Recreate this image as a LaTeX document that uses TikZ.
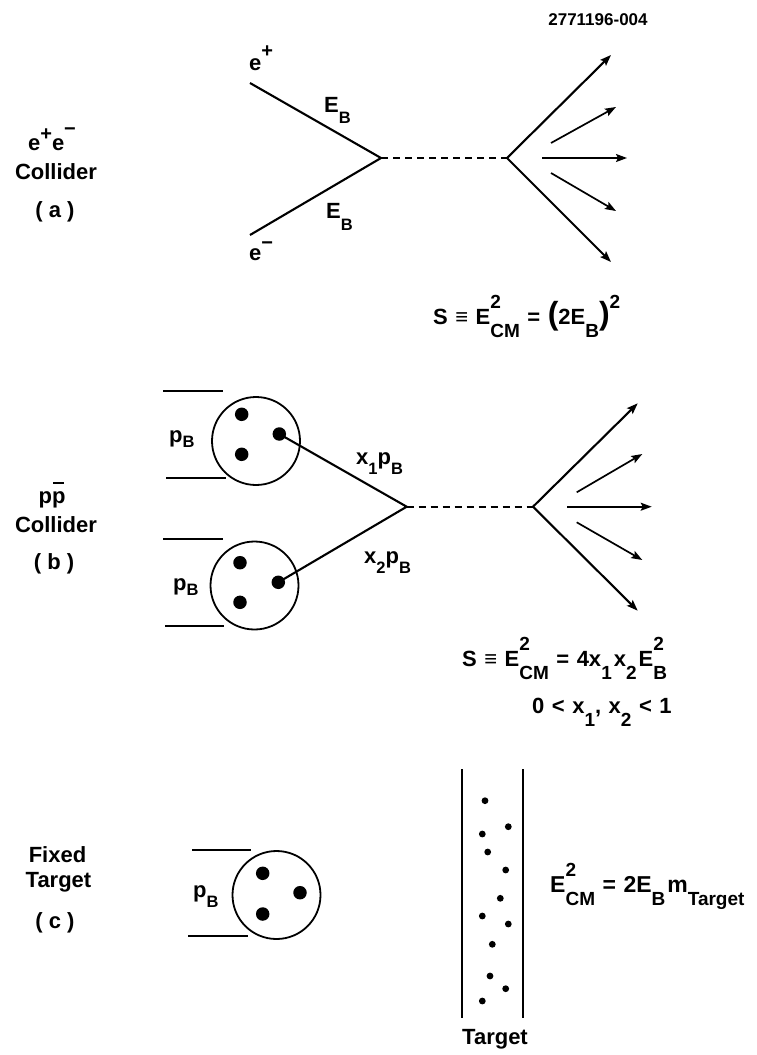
\documentclass[tikz,border=0pt]{standalone}
\usepackage{fontspec}
\setmainfont{Liberation Sans}
\usetikzlibrary{arrows.meta}
\newcommand\fL{\fontsize{22}{26}\selectfont}
\newcommand\fF{\fontsize{22}{26}\selectfont\spaceskip=7.5pt\relax}
\newcommand\fFb{\fontsize{22}{26}\selectfont\spaceskip=7.5pt\relax}
\newcommand\fFc{\fontsize{23}{27}\selectfont\spaceskip=7.5pt\relax}
\newcommand\fS{\fontsize{16.5}{18}\selectfont}
\newcommand\fPM{\fontsize{20}{22}\selectfont}
\newcommand\fsc{\fontsize{19}{21}\selectfont}
\newcommand\supsub[2]{\rlap{\raisebox{16pt}{\fsc #1}}\raisebox{-13pt}{\fsc #2}}
\newcommand\subf[1]{\raisebox{-13pt}{\fsc #1}}
\newcommand\supf[1]{\raisebox{16pt}{\fsc #1}}
\newcommand\sbx[2][10pt]{\raisebox{-#1}{\fS #2}}
\newcommand\pmx[2][12pt]{\raisebox{#1}{\fPM #2}}
\newcommand\pbar{\setbox0=\hbox{p}\rlap{\kern1pt\raisebox{19pt}{\rule{\dimexpr\wd0-2pt\relax}{1.6pt}}}\box0}
\newcommand\bigpar[1]{{\fontsize{32}{32}\selectfont #1}}
\begin{document}
\begin{tikzpicture}[x=1pt,y=-1pt,
  txt/.style={inner sep=0pt, font=\bfseries\fL},
  lbl/.style={txt, anchor=base},
  lw/.style={txt, anchor=base west},
  frm/.style={inner sep=0pt, anchor=base west, font=\bfseries\fF},
  ln/.style={line width=2.1pt},
  thinln/.style={line width=1.2pt},
  arr/.style={line width=1.7pt, -{Stealth[length=11pt,width=8pt,inset=2pt]}},
  arrm/.style={line width=2.1pt, -{Stealth[length=11pt,width=8pt,inset=2pt]}},
  dsh/.style={line width=2.1pt, dash pattern=on 7pt off 5pt},
  proton/.style={circle, draw, line width=1.8pt, minimum size=88pt, inner sep=0pt},
  quark/.style={circle, fill, minimum size=13.5pt, inner sep=0pt},
  atom/.style={circle, fill, minimum size=6.8pt, inner sep=0pt}]
\useasboundingbox (0,0) rectangle (757,1055);

% ---------- label number
\node[lbl, font=\bfseries\fontsize{17}{20}\selectfont] (num) at (598,25) {2771196-004};

% ---------- (a) e+e- collider
\node[lbl] (a1) at (52,150) {e\pmx[10pt]{+}e\pmx[15pt]{\char"2212}};
\node[lbl] (a2) at (56,179) {Collider};
\node[lbl] (a3) at (55,217) {( a )};

\node[lw] (ep) at (249,70) {e\pmx[12.5pt]{+}};
\node[lw] (em) at (249,260) {e\pmx[11pt]{\char"2212}};
\node[lw] (eb1) at (324,112) {E\sbx[11pt]{B}};
\node[lw] (eb2) at (326,218) {E\sbx[12pt]{B}};

\coordinate (a_in1) at (250,83);
\coordinate (a_in2) at (250,235);
\coordinate (a_v1) at (381,158);
\coordinate (a_v2) at (507,158);
\coordinate (a_t1) at (611,55);
\coordinate (a_t5) at (611,262);
\coordinate (a_s2) at (551,143);
\coordinate (a_t2) at (616,107);
\coordinate (a_s3) at (542,158);
\coordinate (a_t3) at (627,158);
\coordinate (a_s4) at (551,173);
\coordinate (a_t4) at (616,211);

\draw[ln] (a_in1) -- (a_v1) -- (a_in2);
\draw[dsh] (a_v1) -- (a_v2);
\draw[arrm] (a_v2) -- (a_t1);
\draw[arrm] (a_v2) -- (a_t5);
\draw[arr] (a_s2) -- (a_t2);
\draw[arr] (a_s3) -- (a_t3);
\draw[arr] (a_s4) -- (a_t4);

\node[frm] (fa) at (433,324) {S \char"2261{} E\supsub{2}{CM} = \bigpar{(}2E\subf{B}\bigpar{)}\supf{2}};

% ---------- (b) p pbar collider
\node[lbl] (b1) at (52,503) {p\pbar};
\node[lbl] (b2) at (56,532) {Collider};
\node[lbl] (b3) at (54,569) {( b )};

\coordinate (b_l1a) at (163,391); \coordinate (b_l1b) at (223,391);
\coordinate (b_l2a) at (166,478); \coordinate (b_l2b) at (226,478);
\coordinate (b_l3a) at (163,539); \coordinate (b_l3b) at (223,539);
\coordinate (b_l4a) at (165,626); \coordinate (b_l4b) at (224,626);
\draw[thinln] (b_l1a) -- (b_l1b);
\draw[thinln] (b_l2a) -- (b_l2b);
\draw[thinln] (b_l3a) -- (b_l3b);
\draw[thinln] (b_l4a) -- (b_l4b);

\node[proton] (bp1) at (256,441) {};
\node[quark] (bq1a) at (241.7,414.3) {};
\node[quark] (bq1b) at (241.7,454.3) {};
\node[quark] (bq1c) at (279.3,434) {};
\node[proton] (bp2) at (254.5,585.5) {};
\node[quark] (bq2a) at (240,562.7) {};
\node[quark] (bq2b) at (240,602.3) {};
\node[quark] (bq2c) at (278.3,582.3) {};

\node[lw] (bpb1) at (169,442) {p\sbx[5pt]{B}};
\node[lw] (bpb2) at (173,590) {p\sbx[5pt]{B}};
\node[lw] (bx1) at (356,464.5) {x\sbx[10pt]{1}p\sbx[10pt]{B}};
\node[lw] (bx2) at (364,563.5) {x\sbx[10pt]{2}p\sbx[10pt]{B}};

\coordinate (b_v1) at (406.7,506.7);
\coordinate (b_v2) at (533,506.7);
\coordinate (b_t1) at (637.7,403.3);
\coordinate (b_t5) at (637.7,610.7);
\coordinate (b_s2) at (576.7,492.3);
\coordinate (b_t2) at (642.3,454);
\coordinate (b_s3) at (567.3,506.7);
\coordinate (b_t3) at (651.7,506.7);
\coordinate (b_s4) at (576.7,522.3);
\coordinate (b_t4) at (642.3,560);

\draw[ln] (bq1c.center) -- (b_v1) -- (bq2c.center);
\draw[dsh] (b_v1) -- (b_v2);
\draw[arrm] (b_v2) -- (b_t1);
\draw[arrm] (b_v2) -- (b_t5);
\draw[arr] (b_s2) -- (b_t2);
\draw[arr] (b_s3) -- (b_t3);
\draw[arr] (b_s4) -- (b_t4);

\node[frm] (fb1) at (462,666) {S \char"2261{} E\supsub{2}{CM} = 4x\subf{1}\kern2pt x\subf{2}\kern2pt E\supsub{2}{B}};
\node[frm, font=\bfseries\fFb] (fb2) at (532,713) {0 \char"003C{} x\subf{1}, x\subf{2} \char"003C{} 1};

% ---------- (c) fixed target
\node[lbl] (c1) at (57.5,862) {Fixed};
\node[lbl] (c2) at (58.5,887) {Target};
\node[lbl] (c3) at (55,928) {( c )};

\coordinate (c_l1a) at (192,850); \coordinate (c_l1b) at (251,850);
\coordinate (c_l2a) at (188,936); \coordinate (c_l2b) at (248,936);
\draw[thinln] (c_l1a) -- (c_l1b);
\draw[thinln] (c_l2a) -- (c_l2b);
\node[proton] (cp) at (276.5,895) {};
\node[quark] (cqa) at (262.7,873.3) {};
\node[quark] (cqb) at (262.7,914) {};
\node[quark] (cqc) at (300,892.7) {};
\node[lw] (cpb) at (193,897) {p\sbx[10pt]{B}};

\coordinate (c_w1a) at (461.7,769); \coordinate (c_w1b) at (461.7,1018);
\coordinate (c_w2a) at (522.7,769); \coordinate (c_w2b) at (522.7,1018);
\draw[ln] (c_w1a) -- (c_w1b);
\draw[ln] (c_w2a) -- (c_w2b);
\foreach \i/\px/\py in {1/485/800.7, 2/508.3/826.7, 3/482.3/834, 4/487.7/852,
  5/505.7/870, 6/500.3/898.3, 7/482.3/916, 8/508.3/924, 9/492.3/944.3,
  10/490/976, 11/505.7/988.7, 12/482.3/1001}
  \node[atom] (ta\i) at (\px,\py) {};
\node[lbl] (tlab) at (495,1044) {Target};
\node[frm, font=\bfseries\fFc] (fc) at (550,892) {E\supsub{2}{CM} = 2E\subf{B}\kern2pt m\subf{Target}};
\end{tikzpicture}
\end{document}
